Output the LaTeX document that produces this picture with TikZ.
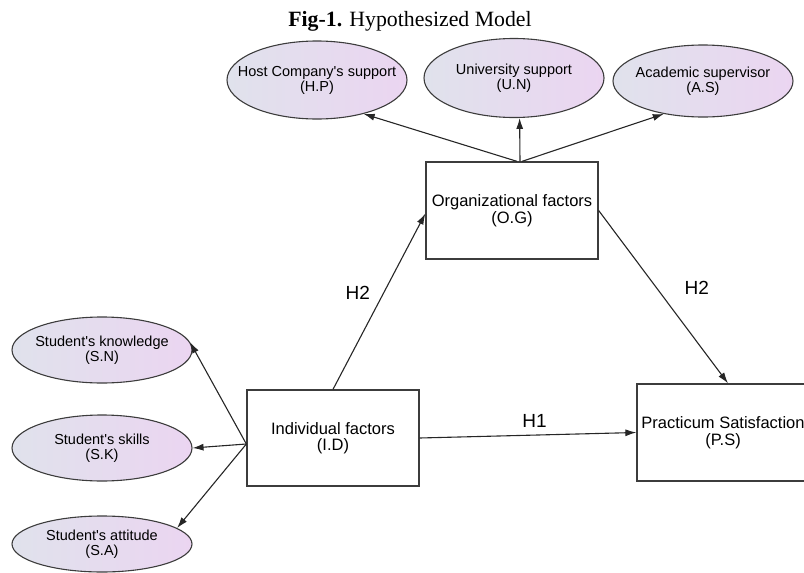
\documentclass[tikz,border=0pt]{standalone}
\usepackage{fontspec}
\setmainfont{Liberation Serif}
\newfontfamily\arialfont{Liberation Sans}
\usepackage{tikz}
\usetikzlibrary{arrows.meta,positioning,shapes.geometric}

\definecolor{ellleft}{RGB}{224,226,236}
\definecolor{ellright}{RGB}{235,213,241}
\definecolor{edgegray}{RGB}{60,60,60}

\begin{document}
\begin{tikzpicture}[x=1pt,y=-1pt,
  ellip/.style={ellipse, draw=edgegray, line width=1.1pt, left color=ellleft, right color=ellright,
    minimum width=180pt, inner xsep=-17pt, inner ysep=0pt, align=center,
    font=\arialfont\fontsize{14.5}{15}\selectfont},
  factor/.style={rectangle, draw=edgegray, line width=1.3pt, fill=white, minimum width=172pt,
    minimum height=96pt, align=center, font=\arialfont\fontsize{16.5}{16.5}\selectfont},
  link/.style={draw=black!85, line width=1.1pt, -{Latex[length=11pt,width=7pt]}},
  hyp/.style={font=\arialfont\fontsize{19}{20}\selectfont}]
\useasboundingbox (0,0) rectangle (804,573);

\node (title) at (410,21) {\fontsize{21.8}{24}\selectfont\textbf{Fig-1.} Hypothesized Model};

% organizational side
\node (hp) at (317,80) [ellip, minimum height=78pt] {Host Company's support\\(H.P)};
\node (un) at (514,78) [ellip, minimum height=79pt] {University support\\(U.N)};
\node (as) at (703,81) [ellip, minimum height=72pt] {Academic supervisor\\(A.S)};

% individual side
\node (sn) at (102,350) [ellip, minimum height=66pt] {Student's knowledge\\(S.N)};
\node (sk) at (102,448) [ellip, minimum height=66pt] {Student's skills\\(S.K)};
\node (sa) at (102,544) [ellip, minimum height=56pt] {Student's attitude\\(S.A)};

\node (og) at (512,210.5) [factor, minimum height=97pt] {Organizational factors\\(O.G)};
\node (id) at (333,438) [factor] {Individual factors\\(I.D)};
\node (ps) at (723,432.5) [factor, minimum height=97pt] {Practicum Satisfaction\\(P.S)};

\draw[link] ([xshift=5pt]og.north) -- (hp.-36);
\draw[link] ([xshift=8pt]og.north) -- (un.-82);
\draw[link] ([xshift=10pt]og.north) -- (as.-140);

\draw[link] ([yshift=-6pt]id.west) -- (sn.5);
\draw[link] ([yshift=-6pt]id.west) -- (sk.east);
\draw[link] ([yshift=-6pt]id.west) -- (sa.12);

\draw[link] (id.north) -- (og.-178) node[hyp, pos=0.55, left=10pt] {H2};
\draw[link] (og.east) -- ([xshift=5pt]ps.north) node[hyp, pos=0.45, right=24pt] {H2};
\draw[link] (id.east) -- (ps.west) node[hyp, pos=0.53, above=4pt] {H1};
\end{tikzpicture}
\end{document}
